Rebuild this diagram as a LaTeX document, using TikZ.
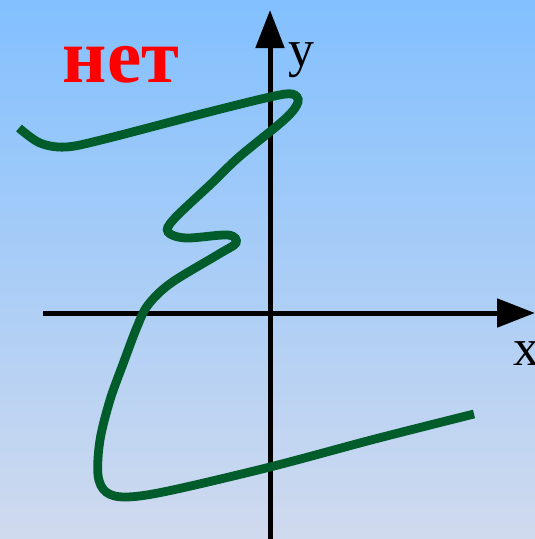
\documentclass[tikz,border=0pt]{standalone}
\usepackage{fontspec}
\setmainfont{Liberation Serif}
\usetikzlibrary{arrows.meta}
\definecolor{skytop}{RGB}{130,192,255}
\definecolor{skybottom}{RGB}{208,218,238}
\definecolor{curvegreen}{RGB}{0,92,42}
\begin{document}
\begin{tikzpicture}[
  x=1pt, y=-1pt,
  axis/.style={line width=5pt, -{Triangle[length=38pt, width=28pt]}},
  graphline/.style={curvegreen, line width=8.8pt},
  axislabel/.style={font=\fontsize{52}{52}\selectfont, inner sep=0pt, anchor=base}
]
% ---- background ----
\shade[top color=skytop, bottom color=skybottom] (0,0) rectangle (535,539);
\useasboundingbox (0,0) rectangle (535,539);

% ---- axes ----
\coordinate (xstart) at (43,313);
\coordinate (xend)   at (535,313);
\coordinate (ystart) at (270,545);
\coordinate (yend)   at (270,10);
\draw[axis] (xstart) -- (xend);
\draw[axis] (ystart) -- (yend);
\node[axislabel] (ylab) at (301,66)  {y};
\node[axislabel] (xlab) at (526,365) {x};

% ---- curve ----
\draw[graphline] plot[smooth, tension=0.55] coordinates {
  (19,128) (40,143) (66,147) (105,139) (205,113) (270,97) (292,94)
  (298,102) (285,119) (239,157) (212,183) (174,219) (168,232)
  (186,238) (228,235) (236,243) (219,254) (171,283) (148,305)
  (137,327) (123,364) (110,400) (100,440) (98,475) (106,492)
  (126,497) (168,491) (270,467) (375,439) (474,414)};

% ---- label ----
\node[red, font=\bfseries\fontsize{77}{77}\selectfont, anchor=base, inner sep=0pt] (verdict) at (121,82) {нет};
\end{tikzpicture}
\end{document}
